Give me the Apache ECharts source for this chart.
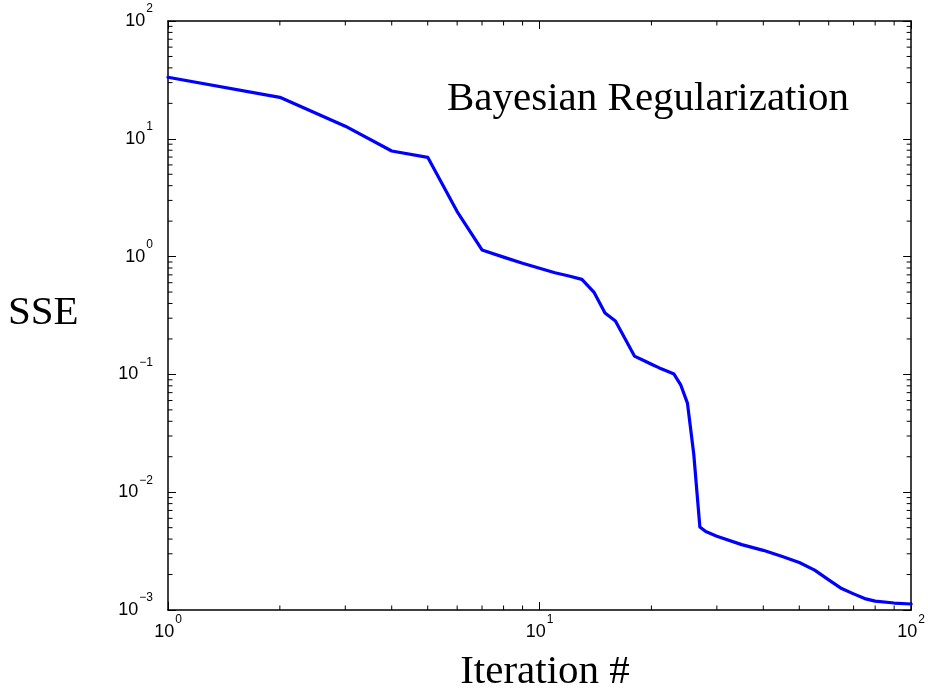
<!DOCTYPE html>
<html>
<head>
<meta charset="utf-8">
<title>Bayesian Regularization — SSE vs iteration</title>
<script src="https://cdn.jsdelivr.net/npm/echarts@6/dist/echarts.min.js"></script>
<style>
  html, body { margin: 0; padding: 0; background: #fff; }
  #chart { width: 928px; height: 692px; }
</style>
</head>
<body>
<div id="chart"></div>
<script>
// Training error (sum of squared errors) per iteration
const iterations = [1, 2, 3, 4, 5, 6, 7, 8, 9, 10, 11, 12, 13, 14, 15, 16, 17, 18, 19, 20,
  21, 22, 23, 24, 25, 26, 27, 28, 30, 35, 40, 45, 50, 55, 60, 65, 70, 75, 80, 90, 100];
const sse = [33.3, 22.5, 12.8, 7.88, 6.96, 2.41, 1.14, 0.99, 0.877, 0.796, 0.729, 0.684, 0.641,
  0.50, 0.332, 0.284, 0.20, 0.143, 0.132, 0.122, 0.1135, 0.107, 0.1007, 0.081, 0.057, 0.021,
  0.00507, 0.00463, 0.00423, 0.00359, 0.00321, 0.00284, 0.00253, 0.00218, 0.0018, 0.00152,
  0.00137, 0.00125, 0.00119, 0.001146, 0.001125];

// Axis ranges (decades)
const xRange = [1, 100];
const yRange = [0.001, 100];
const xDecades = [1, 10];
const yDecades = [0.001, 0.01, 0.1, 1, 10];
const minorSteps = [2, 3, 4, 5, 6, 7, 8, 9];

const minorX = [];
xDecades.forEach(d => minorSteps.forEach(m => minorX.push(d * m)));
const minorY = [];
yDecades.forEach(d => minorSteps.forEach(m => minorY.push(+(d * m).toPrecision(3))));

const chart = echarts.init(document.getElementById('chart'), null, { renderer: 'canvas' });

const AXIS_COLOR = '#000';
const LABEL_FONT = '"Liberation Sans", Arial, sans-serif';
const SERIF = '"Liberation Serif", "Times New Roman", serif';

// "10" with the decade exponent as a raised superscript
function powerLabel(v) {
  const e = Math.round(Math.log10(v));
  const s = e < 0 ? '\u2212' + (-e) : String(e);
  return '{b|10}{s|' + s + '}';
}
const labelRich = {
  b: { fontSize: 18, fontFamily: LABEL_FONT, color: '#000', lineHeight: 36 },
  s: { fontSize: 12, fontFamily: LABEL_FONT, color: '#000', lineHeight: 12,
       verticalAlign: 'bottom', padding: [0, 0, 24, 1] }
};

const lineStyle = { color: AXIS_COLOR, width: 1.5 };
const majorTick = { show: true, inside: true, length: 8, lineStyle: { color: AXIS_COLOR, width: 1 } };

function logAxis(pos, range, label) {
  return {
    type: 'log',
    logBase: 10,
    position: pos,
    min: range[0],
    max: range[1],
    axisLine: { show: true, onZero: false, lineStyle: lineStyle },
    axisTick: majorTick,
    minorTick: { show: false },
    splitLine: { show: false },
    axisLabel: label ? Object.assign({ show: true, formatter: powerLabel, rich: labelRich }, label) : { show: false }
  };
}

const MINOR_LEN = 4.5;

const option = {
  animation: false,
  backgroundColor: '#fff',
  grid: { left: 168, right: 14, top: 21, bottom: 82, containLabel: false },
  xAxis: [
    logAxis('bottom', xRange, { margin: 4 }),
    logAxis('top', xRange, null)
  ],
  yAxis: [
    logAxis('left', yRange, { margin: 15, align: 'right' }),
    logAxis('right', yRange, null)
  ],
  series: [
    {
      // minor ticks along the bottom and top edges
      type: 'custom',
      xAxisIndex: 0,
      yAxisIndex: 0,
      silent: true,
      clip: false,
      data: minorX.map(v => [v, yRange[0]]),
      renderItem: function (params, api) {
        const x = api.value(0);
        const b = api.coord([x, yRange[0]]);
        const t = api.coord([x, yRange[1]]);
        const st = { stroke: AXIS_COLOR, lineWidth: 1 };
        return {
          type: 'group',
          children: [
            { type: 'line', shape: { x1: b[0], y1: b[1], x2: b[0], y2: b[1] - MINOR_LEN }, style: st },
            { type: 'line', shape: { x1: t[0], y1: t[1], x2: t[0], y2: t[1] + MINOR_LEN }, style: st }
          ]
        };
      }
    },
    {
      // minor ticks along the left and right edges
      type: 'custom',
      xAxisIndex: 0,
      yAxisIndex: 0,
      silent: true,
      clip: false,
      data: minorY.map(v => [xRange[0], v]),
      renderItem: function (params, api) {
        const y = api.value(1);
        const l = api.coord([xRange[0], y]);
        const r = api.coord([xRange[1], y]);
        const st = { stroke: AXIS_COLOR, lineWidth: 1 };
        return {
          type: 'group',
          children: [
            { type: 'line', shape: { x1: l[0], y1: l[1], x2: l[0] + MINOR_LEN, y2: l[1] }, style: st },
            { type: 'line', shape: { x1: r[0], y1: r[1], x2: r[0] - MINOR_LEN, y2: r[1] }, style: st }
          ]
        };
      }
    },
    {
      name: 'SSE',
      type: 'line',
      xAxisIndex: 0,
      yAxisIndex: 0,
      data: iterations.map((it, i) => [it, sse[i]]),
      showSymbol: false,
      smooth: false,
      lineStyle: { color: '#0000ff', width: 3.2, join: 'round', cap: 'round' },
      itemStyle: { color: '#0000ff' },
      z: 5
    }
  ],
  graphic: [
    {
      type: 'text', x: 447, y: 99, silent: true,
      style: { text: 'Bayesian Regularization', font: '41px ' + SERIF, fill: '#000', align: 'left', verticalAlign: 'middle' }
    },
    {
      type: 'text', x: 8, y: 313, silent: true,
      style: { text: 'SSE', font: '41px ' + SERIF, fill: '#000', align: 'left', verticalAlign: 'middle' }
    },
    {
      type: 'text', x: 545, y: 672, silent: true,
      style: { text: 'Iteration #', font: '41px ' + SERIF, fill: '#000', align: 'center', verticalAlign: 'middle' }
    }
  ]
};

chart.setOption(option);
</script>
</body>
</html>
